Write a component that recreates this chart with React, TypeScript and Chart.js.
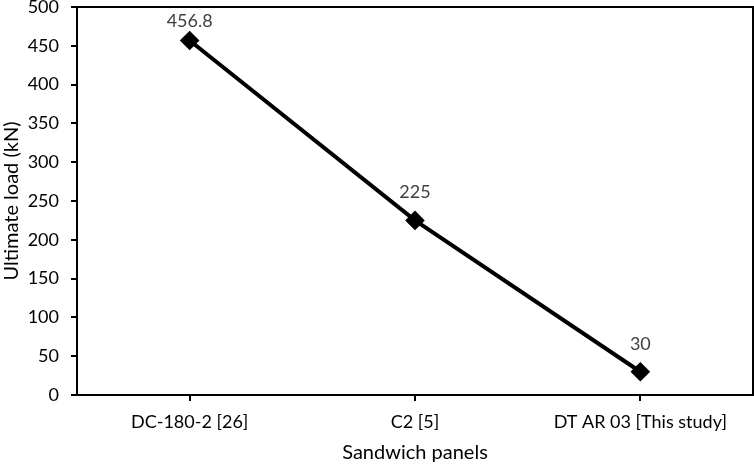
import { useEffect, useRef } from 'react';
import { Chart, registerables } from 'chart.js';

Chart.register(...registerables);

const panels = ['DC-180-2 [26]', 'C2 [5]', 'DT AR 03 [This study]'];
const ultimateLoad = [456.8, 225, 30];
const yTicks = [0, 50, 100, 150, 200, 250, 300, 350, 400, 450, 500];

const FONT = 'Lato, "Open Sans", sans-serif';

// box around the plot area, like the Excel frame
const framePlugin = {
    id: 'frame',
    afterDraw(chart: any) {
        const { ctx, chartArea } = chart;
        ctx.save();
        ctx.strokeStyle = '#000';
        ctx.lineWidth = 2;
        ctx.strokeRect(chartArea.left, chartArea.top, chartArea.right - chartArea.left, chartArea.bottom - chartArea.top);
        ctx.restore();
    },
};

// value labels above each point
const valueLabels = {
    id: 'valueLabels',
    afterDatasetsDraw(chart: any) {
        const { ctx, chartArea } = chart;
        const meta = chart.getDatasetMeta(0);
        ctx.save();
        ctx.font = '18px ' + FONT;
        ctx.fillStyle = '#404040';
        ctx.textAlign = 'center';
        ctx.textBaseline = 'middle';
        meta.data.forEach((pt: any, i: number) => {
            const y = Math.max(pt.y - 28, chartArea.top + 14);
            ctx.fillText(String(ultimateLoad[i]), pt.x, y);
        });
        ctx.restore();
    },
};

const LoadChart = () => {
    const chartRef = useRef<HTMLCanvasElement | null>(null);
    const chartInstance = useRef<Chart | null>(null);

    useEffect(() => {
        document.body.style.margin = '0';
        if (chartRef.current) {
            if (chartInstance.current) {
                chartInstance.current.destroy();
            }

            chartInstance.current = new Chart(chartRef.current, {
                type: 'line',
                data: {
                    labels: panels,
                    datasets: [{
                        data: ultimateLoad,
                        borderColor: '#000',
                        backgroundColor: '#000',
                        borderWidth: 4,
                        pointStyle: 'rectRot',
                        pointRadius: 7,
                        pointBackgroundColor: '#000',
                        pointBorderColor: '#000',
                        tension: 0,
                    }],
                },
                options: {
                    animation: false,
                    responsive: true,
                    maintainAspectRatio: false,
                    layout: {
                        autoPadding: false,
                        padding: { top: 7, right: 1, left: 0, bottom: 0 },
                    },
                    plugins: {
                        legend: { display: false },
                        tooltip: { enabled: false },
                    },
                    scales: {
                        x: {
                            type: 'category',
                            offset: true,
                            grid: {
                                offset: false,
                                drawOnChartArea: false,
                                drawTicks: true,
                                tickLength: 6,
                                color: '#000',
                                lineWidth: 2,
                            },
                            border: { display: true, color: '#000', width: 2 },
                            ticks: {
                                color: '#000',
                                font: { family: FONT, size: 18 },
                                padding: 10,
                                maxRotation: 0,
                            },
                            title: {
                                display: true,
                                text: 'Sandwich panels',
                                color: '#000',
                                font: { family: FONT, size: 20 },
                                padding: { top: 6, bottom: 0 },
                            },
                            afterFit: (scale: any) => {
                                scale.height = 70;
                                scale.paddingLeft = 0;
                                scale.paddingRight = 0;
                            },
                        },
                        y: {
                            min: 0,
                            max: 500,
                            afterBuildTicks: (scale: any) => {
                                scale.ticks = yTicks.map((v) => ({ value: v }));
                            },
                            grid: {
                                drawOnChartArea: false,
                                drawTicks: true,
                                tickLength: 6,
                                color: '#000',
                                lineWidth: 2,
                            },
                            border: { display: true, color: '#000', width: 2 },
                            ticks: {
                                color: '#000',
                                font: { family: FONT, size: 18 },
                                padding: 12,
                            },
                            title: {
                                display: true,
                                text: 'Ultimate load (kN)',
                                color: '#000',
                                font: { family: FONT, size: 20 },
                                padding: { top: 0, bottom: 2 },
                            },
                            afterFit: (scale: any) => {
                                scale.width = 77;
                                scale.paddingTop = 0;
                                scale.paddingBottom = 0;
                            },
                        },
                    },
                },
                plugins: [framePlugin, valueLabels],
            });
        }

        return () => {
            if (chartInstance.current) {
                chartInstance.current.destroy();
            }
        };
    }, []);

    return (
        <div style={{ position: 'relative', width: '754px', height: '465px' }}>
            <canvas ref={chartRef}></canvas>
        </div>
    );
};

export default function App() {
    return <LoadChart />;
}
